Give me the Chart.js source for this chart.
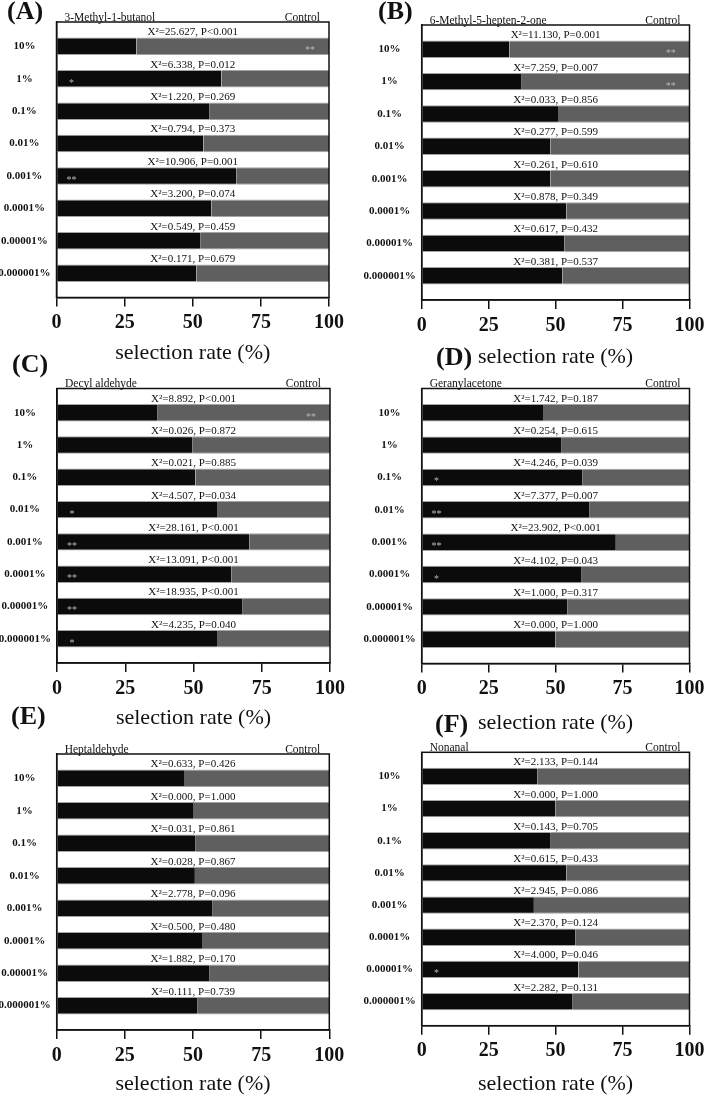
<!DOCTYPE html>
<html>
<head>
<meta charset="utf-8">
<script src="https://cdn.jsdelivr.net/npm/chart.js@4.4.1/dist/chart.umd.min.js"></script>
<style>
  body { margin: 0; background: #fff; }
  #wrap { position: relative; width: 709px; height: 1103px; overflow: hidden; background: #fff; }
  canvas { position: absolute; }
  .tag { position: absolute; font: bold 26px/26px "Liberation Serif", serif; color: #111; }
</style>
</head>
<body>
<div id="wrap">
  <canvas id="cA" width="354" height="380" style="left:0px;top:0px"></canvas>
  <canvas id="cB" width="355" height="380" style="left:354px;top:0px"></canvas>
  <canvas id="cC" width="354" height="380" style="left:0px;top:366px"></canvas>
  <canvas id="cD" width="355" height="380" style="left:354px;top:366px"></canvas>
  <canvas id="cE" width="354" height="371" style="left:0px;top:732px"></canvas>
  <canvas id="cF" width="355" height="371" style="left:354px;top:732px"></canvas>
  <div class="tag" style="left:7px;top:-2px">(A)</div>
  <div class="tag" style="left:378px;top:-2px">(B)</div>
  <div class="tag" style="left:12px;top:351px">(C)</div>
  <div class="tag" style="left:436px;top:344px">(D)</div>
  <div class="tag" style="left:11px;top:703px">(E)</div>
  <div class="tag" style="left:435px;top:711px">(F)</div>
</div>
<script>
// setup
const categories = ['10%', '1%', '0.1%', '0.01%', '0.001%', '0.0001%', '0.00001%', '0.000001%'];

const treatA = [29.3, 60.5, 56.0, 53.9, 66.1, 56.8, 52.7, 51.3];
const controlA = [70.7, 39.5, 44.0, 46.1, 33.9, 43.2, 47.3, 48.7];
const chiA = ['25.627', '6.338', '1.220', '0.794', '10.906', '3.200', '0.549', '0.171'];
const pA = ['P<0.001', 'P=0.012', 'P=0.269', 'P=0.373', 'P=0.001', 'P=0.074', 'P=0.459', 'P=0.679'];
const starsA = ['**', '*', '', '', '**', '', '', ''];

const treatB = [32.7, 37.1, 50.9, 48.0, 48.0, 54.0, 53.2, 52.5];
const controlB = [67.3, 62.9, 49.1, 52.0, 52.0, 46.0, 46.8, 47.5];
const chiB = ['11.130', '7.259', '0.033', '0.277', '0.261', '0.878', '0.617', '0.381'];
const pB = ['P=0.001', 'P=0.007', 'P=0.856', 'P=0.599', 'P=0.610', 'P=0.349', 'P=0.432', 'P=0.537'];
const starsB = ['**', '**', '', '', '', '', '', ''];

const treatC = [36.9, 49.5, 50.7, 58.9, 70.4, 63.8, 67.8, 58.9];
const controlC = [63.1, 50.5, 49.3, 41.1, 29.6, 36.2, 32.2, 41.1];
const chiC = ['8.892', '0.026', '0.021', '4.507', '28.161', '13.091', '18.935', '4.235'];
const pC = ['P<0.001', 'P=0.872', 'P=0.885', 'P=0.034', 'P<0.001', 'P<0.001', 'P<0.001', 'P=0.040'];
const starsC = ['**', '', '', '*', '**', '**', '**', '*'];

const treatD = [45.3, 52.3, 59.9, 62.5, 72.5, 59.5, 54.3, 50.0];
const controlD = [54.7, 47.7, 40.1, 37.5, 27.5, 40.5, 45.7, 50.0];
const chiD = ['1.742', '0.254', '4.246', '7.377', '23.902', '4.102', '1.000', '0.000'];
const pD = ['P=0.187', 'P=0.615', 'P=0.039', 'P=0.007', 'P<0.001', 'P=0.043', 'P=0.317', 'P=1.000'];
const starsD = ['', '', '*', '**', '**', '*', '', ''];

const treatE = [46.7, 50.0, 51.0, 50.7, 57.0, 53.3, 55.9, 51.5];
const controlE = [53.3, 50.0, 49.0, 49.3, 43.0, 46.7, 44.1, 48.5];
const chiE = ['0.633', '0.000', '0.031', '0.028', '2.778', '0.500', '1.882', '0.111'];
const pE = ['P=0.426', 'P=1.000', 'P=0.861', 'P=0.867', 'P=0.096', 'P=0.480', 'P=0.170', 'P=0.739'];
const starsE = ['', '', '', '', '', '', '', ''];

const treatF = [43.3, 50.0, 48.2, 54.1, 41.9, 57.5, 58.5, 56.4];
const controlF = [56.7, 50.0, 51.8, 45.9, 58.1, 42.5, 41.5, 43.6];
const chiF = ['2.133', '0.000', '0.143', '0.615', '2.945', '2.370', '4.000', '2.282'];
const pF = ['P=0.144', 'P=1.000', 'P=0.705', 'P=0.433', 'P=0.086', 'P=0.124', 'P=0.046', 'P=0.131'];
const starsF = ['', '', '', '', '', '', '*', ''];

const SERIF = '"Liberation Serif", "Times New Roman", serif';

// frame, header names, chi-square labels and asterisks
const annotate = {
  id: 'annotate',
  afterDraw(chart) {
    const o = chart.options.plugins.annotate;
    const {ctx, chartArea: a} = chart;
    const x = chart.scales.x, y = chart.scales.y;
    ctx.save();
    ctx.strokeStyle = '#111';
    ctx.lineWidth = 1.5;
    ctx.strokeRect(a.left, a.top, a.right - a.left, a.bottom - a.top);

    ctx.fillStyle = '#111';
    ctx.font = '11.5px ' + SERIF;
    ctx.textBaseline = 'alphabetic';
    ctx.textAlign = 'left';
    ctx.fillText(o.name, a.left + 8, a.top - 1.5);
    ctx.textAlign = 'right';
    ctx.fillText('Control', a.right - 9, a.top - 1.5);

    ctx.font = '11px ' + SERIF;
    ctx.textAlign = 'center';
    ctx.textBaseline = 'middle';
    o.chi.forEach((c, i) => {
      ctx.fillText('X\u00B2=' + c + ', ' + o.p[i], x.getPixelForValue(50), y.getPixelForValue(i - 0.43));
    });

    ctx.fillStyle = '#b8b8b8';
    ctx.font = '10px ' + SERIF;
    ctx.textBaseline = 'alphabetic';
    o.stars.forEach((s, i) => {
      if (!s) return;
      const pos = o.treat[i] < 50 ? 93 : 5.5;
      ctx.fillText(s, x.getPixelForValue(pos), y.getPixelForValue(i) + 7);
    });
    ctx.restore();
  }
};

function makeChart(id, box, name, treat, control, chi, p, stars) {
  const toPts = arr => arr.map((v, i) => ({x: v, y: i}));
  const edge = {top: 1, bottom: 1, left: 0, right: 0};
  return new Chart(document.getElementById(id), {
    type: 'bar',
    data: {
      datasets: [
        {label: name, data: toPts(treat), backgroundColor: '#0b0b0b', borderColor: '#a4a4a4', borderWidth: edge, borderSkipped: false, barPercentage: 0.54, categoryPercentage: 1},
        {label: 'Control', data: toPts(control), backgroundColor: '#5f5f5f', borderColor: '#a4a4a4', borderWidth: edge, borderSkipped: false, barPercentage: 0.54, categoryPercentage: 1}
      ]
    },
    options: {
      indexAxis: 'y',
      responsive: false,
      animation: false,
      layout: {padding: {top: box.T - box.cy, right: box.cx + box.cw - box.R, left: 0, bottom: 0}},
      scales: {
        x: {
          type: 'linear', stacked: true, min: 0, max: 100,
          ticks: {stepSize: 25, padding: 4.5, color: '#111', font: {family: SERIF, size: 20, weight: 'bold'}},
          grid: {drawOnChartArea: false, drawTicks: true, tickLength: 9, color: '#111', lineWidth: 1.5},
          border: {display: true, color: '#111', width: 1.5},
          title: {display: true, text: 'selection rate (%)', color: '#111', font: {family: SERIF, size: 22}, padding: {top: 0, bottom: box.cy + box.ch - box.title - 13.2}},
          afterFit: s => { s.height = box.cy + box.ch - box.B; }
        },
        y: {
          type: 'linear', stacked: true, reverse: true, offset: false, min: -0.75, max: 7.75,
          afterBuildTicks: s => { s.ticks = categories.map((c, i) => ({value: i})); },
          ticks: {crossAlign: 'center', padding: 6, color: '#111', font: {family: SERIF, size: 11, weight: 'bold'}, callback: v => categories[v]},
          grid: {display: false, drawTicks: false, offset: false},
          border: {display: true, color: '#111', width: 1.5},
          afterFit: s => { s.width = box.L - box.cx; }
        }
      },
      plugins: {
        legend: {display: false},
        tooltip: {enabled: false},
        annotate: {name, chi, p, stars, treat}
      }
    },
    plugins: [annotate]
  });
}

// render
makeChart('cA', {cx: 0, cy: 0, cw: 354, ch: 380, L: 56.5, R: 329, T: 22, B: 297.5, title: 353}, '3-Methyl-1-butanol', treatA, controlA, chiA, pA, starsA);
makeChart('cB', {cx: 354, cy: 0, cw: 355, ch: 380, L: 421.7, R: 694.5, T: 25, B: 300, title: 357}, '6-Methyl-5-hepten-2-one', treatB, controlB, chiB, pB, starsB);
makeChart('cC', {cx: 0, cy: 366, cw: 354, ch: 380, L: 57, R: 330, T: 388.5, B: 663, title: 718}, 'Decyl aldehyde', treatC, controlC, chiC, pC, starsC);
makeChart('cD', {cx: 354, cy: 366, cw: 355, ch: 380, L: 421.7, R: 694, T: 388.5, B: 663.5, title: 723}, 'Geranylacetone', treatD, controlD, chiD, pD, starsD);
makeChart('cE', {cx: 0, cy: 732, cw: 354, ch: 371, L: 56.7, R: 329.3, T: 754, B: 1030, title: 1084}, 'Heptaldehyde', treatE, controlE, chiE, pE, starsE);
makeChart('cF', {cx: 354, cy: 732, cw: 355, ch: 371, L: 421.7, R: 694, T: 752.3, B: 1025.7, title: 1084}, 'Nonanal', treatF, controlF, chiF, pF, starsF);
</script>
</body>
</html>
